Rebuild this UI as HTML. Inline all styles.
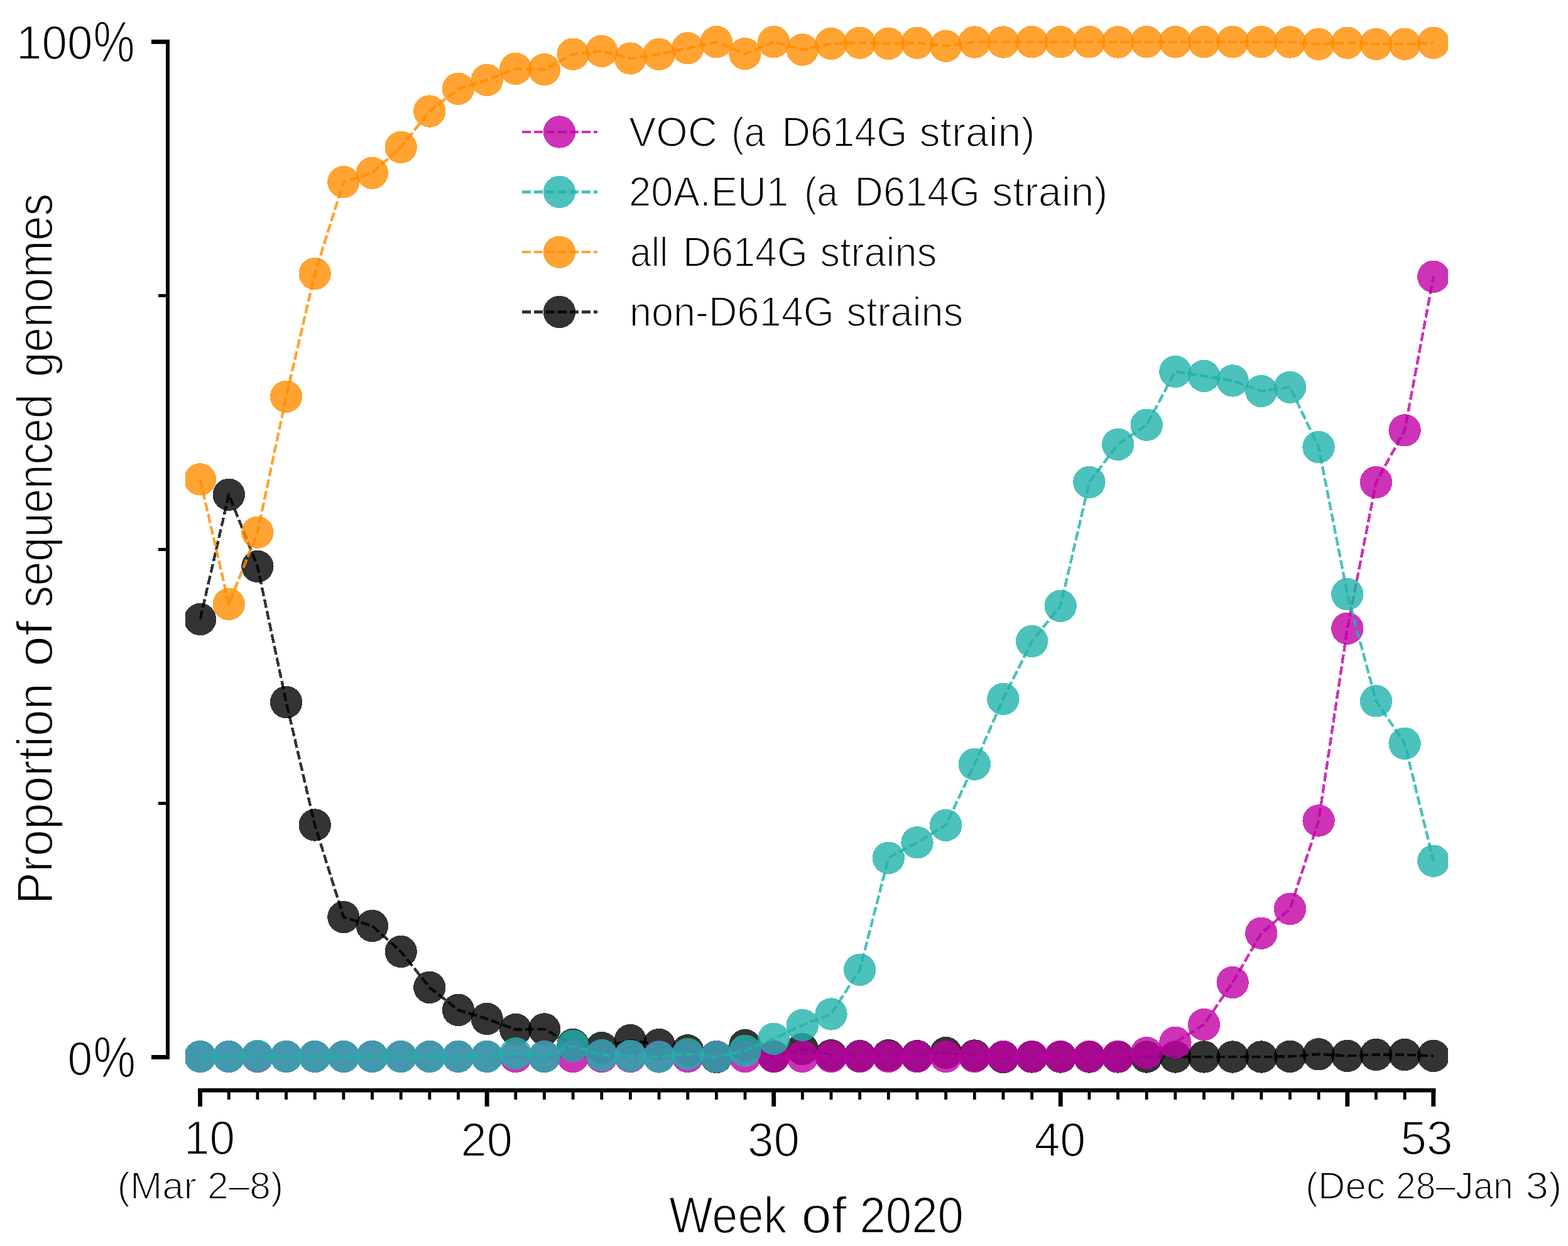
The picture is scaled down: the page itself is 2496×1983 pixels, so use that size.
<!DOCTYPE html>
<html><head><meta charset="utf-8"><title>Proportion of sequenced genomes by week of 2020</title>
<style>html,body{margin:0;padding:0;background:#fff;overflow:hidden;}svg{display:block;}
text{font-family:"Liberation Sans",Arial,sans-serif;fill:#000;stroke:#fff;stroke-width:1.8px;}</style></head>
<body>
<svg width="2496" height="1983" viewBox="0 0 2496 1983">
<rect x="0" y="0" width="2496" height="1983" fill="#fff"/>
<defs><clipPath id="axclip"><rect x="295" y="0" width="2010" height="1983"/></clipPath></defs>
<g clip-path="url(#axclip)">
<g id="black">
<polyline points="318.6,985.6 364.3,787.2 409.9,901.4 455.6,1117.5 501.2,1313.0 546.9,1459.6 592.5,1473.5 638.2,1514.4 683.8,1571.4 729.5,1607.4 775.2,1621.5 820.8,1638.5 866.5,1638.0 912.1,1662.5 957.8,1667.6 1003.4,1655.6 1049.1,1662.6 1094.7,1671.8 1140.4,1682.5 1186.0,1663.5 1231.7,1681.5 1277.4,1669.6 1323.0,1679.7 1368.7,1680.7 1414.3,1679.7 1460.0,1680.7 1505.6,1675.6 1551.3,1680.0 1596.9,1682.5 1642.6,1682.0 1688.2,1682.0 1733.9,1682.0 1779.6,1682.0 1825.2,1682.0 1870.9,1682.0 1916.5,1682.0 1962.2,1682.0 2007.8,1682.0 2053.5,1681.4 2099.1,1677.8 2144.8,1680.4 2190.5,1678.5 2236.1,1678.5 2281.8,1680.4" fill="none" stroke="#000000" stroke-opacity="0.8" stroke-width="4.4" stroke-dasharray="14 5" stroke-linejoin="round" shape-rendering="crispEdges"/>
<circle cx="318.6" cy="985.6" r="25.7" fill="#000000" fill-opacity="0.8" shape-rendering="crispEdges"/>
<circle cx="364.3" cy="787.2" r="25.7" fill="#000000" fill-opacity="0.8" shape-rendering="crispEdges"/>
<circle cx="409.9" cy="901.4" r="25.7" fill="#000000" fill-opacity="0.8" shape-rendering="crispEdges"/>
<circle cx="455.6" cy="1117.5" r="25.7" fill="#000000" fill-opacity="0.8" shape-rendering="crispEdges"/>
<circle cx="501.2" cy="1313.0" r="25.7" fill="#000000" fill-opacity="0.8" shape-rendering="crispEdges"/>
<circle cx="546.9" cy="1459.6" r="25.7" fill="#000000" fill-opacity="0.8" shape-rendering="crispEdges"/>
<circle cx="592.5" cy="1473.5" r="25.7" fill="#000000" fill-opacity="0.8" shape-rendering="crispEdges"/>
<circle cx="638.2" cy="1514.4" r="25.7" fill="#000000" fill-opacity="0.8" shape-rendering="crispEdges"/>
<circle cx="683.8" cy="1571.4" r="25.7" fill="#000000" fill-opacity="0.8" shape-rendering="crispEdges"/>
<circle cx="729.5" cy="1607.4" r="25.7" fill="#000000" fill-opacity="0.8" shape-rendering="crispEdges"/>
<circle cx="775.2" cy="1621.5" r="25.7" fill="#000000" fill-opacity="0.8" shape-rendering="crispEdges"/>
<circle cx="820.8" cy="1638.5" r="25.7" fill="#000000" fill-opacity="0.8" shape-rendering="crispEdges"/>
<circle cx="866.5" cy="1638.0" r="25.7" fill="#000000" fill-opacity="0.8" shape-rendering="crispEdges"/>
<circle cx="912.1" cy="1662.5" r="25.7" fill="#000000" fill-opacity="0.8" shape-rendering="crispEdges"/>
<circle cx="957.8" cy="1667.6" r="25.7" fill="#000000" fill-opacity="0.8" shape-rendering="crispEdges"/>
<circle cx="1003.4" cy="1655.6" r="25.7" fill="#000000" fill-opacity="0.8" shape-rendering="crispEdges"/>
<circle cx="1049.1" cy="1662.6" r="25.7" fill="#000000" fill-opacity="0.8" shape-rendering="crispEdges"/>
<circle cx="1094.7" cy="1671.8" r="25.7" fill="#000000" fill-opacity="0.8" shape-rendering="crispEdges"/>
<circle cx="1140.4" cy="1682.5" r="25.7" fill="#000000" fill-opacity="0.8" shape-rendering="crispEdges"/>
<circle cx="1186.0" cy="1663.5" r="25.7" fill="#000000" fill-opacity="0.8" shape-rendering="crispEdges"/>
<circle cx="1231.7" cy="1681.5" r="25.7" fill="#000000" fill-opacity="0.8" shape-rendering="crispEdges"/>
<circle cx="1277.4" cy="1669.6" r="25.7" fill="#000000" fill-opacity="0.8" shape-rendering="crispEdges"/>
<circle cx="1323.0" cy="1679.7" r="25.7" fill="#000000" fill-opacity="0.8" shape-rendering="crispEdges"/>
<circle cx="1368.7" cy="1680.7" r="25.7" fill="#000000" fill-opacity="0.8" shape-rendering="crispEdges"/>
<circle cx="1414.3" cy="1679.7" r="25.7" fill="#000000" fill-opacity="0.8" shape-rendering="crispEdges"/>
<circle cx="1460.0" cy="1680.7" r="25.7" fill="#000000" fill-opacity="0.8" shape-rendering="crispEdges"/>
<circle cx="1505.6" cy="1675.6" r="25.7" fill="#000000" fill-opacity="0.8" shape-rendering="crispEdges"/>
<circle cx="1551.3" cy="1680.0" r="25.7" fill="#000000" fill-opacity="0.8" shape-rendering="crispEdges"/>
<circle cx="1596.9" cy="1682.5" r="25.7" fill="#000000" fill-opacity="0.8" shape-rendering="crispEdges"/>
<circle cx="1642.6" cy="1682.0" r="25.7" fill="#000000" fill-opacity="0.8" shape-rendering="crispEdges"/>
<circle cx="1688.2" cy="1682.0" r="25.7" fill="#000000" fill-opacity="0.8" shape-rendering="crispEdges"/>
<circle cx="1733.9" cy="1682.0" r="25.7" fill="#000000" fill-opacity="0.8" shape-rendering="crispEdges"/>
<circle cx="1779.6" cy="1682.0" r="25.7" fill="#000000" fill-opacity="0.8" shape-rendering="crispEdges"/>
<circle cx="1825.2" cy="1682.0" r="25.7" fill="#000000" fill-opacity="0.8" shape-rendering="crispEdges"/>
<circle cx="1870.9" cy="1682.0" r="25.7" fill="#000000" fill-opacity="0.8" shape-rendering="crispEdges"/>
<circle cx="1916.5" cy="1682.0" r="25.7" fill="#000000" fill-opacity="0.8" shape-rendering="crispEdges"/>
<circle cx="1962.2" cy="1682.0" r="25.7" fill="#000000" fill-opacity="0.8" shape-rendering="crispEdges"/>
<circle cx="2007.8" cy="1682.0" r="25.7" fill="#000000" fill-opacity="0.8" shape-rendering="crispEdges"/>
<circle cx="2053.5" cy="1681.4" r="25.7" fill="#000000" fill-opacity="0.8" shape-rendering="crispEdges"/>
<circle cx="2099.1" cy="1677.8" r="25.7" fill="#000000" fill-opacity="0.8" shape-rendering="crispEdges"/>
<circle cx="2144.8" cy="1680.4" r="25.7" fill="#000000" fill-opacity="0.8" shape-rendering="crispEdges"/>
<circle cx="2190.5" cy="1678.5" r="25.7" fill="#000000" fill-opacity="0.8" shape-rendering="crispEdges"/>
<circle cx="2236.1" cy="1678.5" r="25.7" fill="#000000" fill-opacity="0.8" shape-rendering="crispEdges"/>
<circle cx="2281.8" cy="1680.4" r="25.7" fill="#000000" fill-opacity="0.8" shape-rendering="crispEdges"/>
</g>
<g id="magenta">
<polyline points="318.6,1681.5 364.3,1681.5 409.9,1681.5 455.6,1681.5 501.2,1681.5 546.9,1681.5 592.5,1681.5 638.2,1681.5 683.8,1681.5 729.5,1681.5 775.2,1681.5 820.8,1681.5 866.5,1681.5 912.1,1681.5 957.8,1681.5 1003.4,1681.5 1049.1,1681.5 1094.7,1681.5 1140.4,1681.5 1186.0,1681.5 1231.7,1681.5 1277.4,1681.5 1323.0,1681.5 1368.7,1681.5 1414.3,1681.5 1460.0,1681.5 1505.6,1681.5 1551.3,1681.5 1596.9,1681.5 1642.6,1681.5 1688.2,1681.5 1733.9,1681.5 1779.6,1681.5 1825.2,1675.7 1870.9,1659.2 1916.5,1630.6 1962.2,1563.5 2007.8,1485.2 2053.5,1446.5 2099.1,1306.0 2144.8,1000.2 2190.5,767.5 2236.1,684.8 2281.8,440.3" fill="none" stroke="#bf00a5" stroke-opacity="0.8" stroke-width="4.4" stroke-dasharray="14 5" stroke-linejoin="round" shape-rendering="crispEdges"/>
<circle cx="318.6" cy="1681.5" r="25.7" fill="#bf00a5" fill-opacity="0.8" shape-rendering="crispEdges"/>
<circle cx="364.3" cy="1681.5" r="25.7" fill="#bf00a5" fill-opacity="0.8" shape-rendering="crispEdges"/>
<circle cx="409.9" cy="1681.5" r="25.7" fill="#bf00a5" fill-opacity="0.8" shape-rendering="crispEdges"/>
<circle cx="455.6" cy="1681.5" r="25.7" fill="#bf00a5" fill-opacity="0.8" shape-rendering="crispEdges"/>
<circle cx="501.2" cy="1681.5" r="25.7" fill="#bf00a5" fill-opacity="0.8" shape-rendering="crispEdges"/>
<circle cx="546.9" cy="1681.5" r="25.7" fill="#bf00a5" fill-opacity="0.8" shape-rendering="crispEdges"/>
<circle cx="592.5" cy="1681.5" r="25.7" fill="#bf00a5" fill-opacity="0.8" shape-rendering="crispEdges"/>
<circle cx="638.2" cy="1681.5" r="25.7" fill="#bf00a5" fill-opacity="0.8" shape-rendering="crispEdges"/>
<circle cx="683.8" cy="1681.5" r="25.7" fill="#bf00a5" fill-opacity="0.8" shape-rendering="crispEdges"/>
<circle cx="729.5" cy="1681.5" r="25.7" fill="#bf00a5" fill-opacity="0.8" shape-rendering="crispEdges"/>
<circle cx="775.2" cy="1681.5" r="25.7" fill="#bf00a5" fill-opacity="0.8" shape-rendering="crispEdges"/>
<circle cx="820.8" cy="1681.5" r="25.7" fill="#bf00a5" fill-opacity="0.8" shape-rendering="crispEdges"/>
<circle cx="866.5" cy="1681.5" r="25.7" fill="#bf00a5" fill-opacity="0.8" shape-rendering="crispEdges"/>
<circle cx="912.1" cy="1681.5" r="25.7" fill="#bf00a5" fill-opacity="0.8" shape-rendering="crispEdges"/>
<circle cx="957.8" cy="1681.5" r="25.7" fill="#bf00a5" fill-opacity="0.8" shape-rendering="crispEdges"/>
<circle cx="1003.4" cy="1681.5" r="25.7" fill="#bf00a5" fill-opacity="0.8" shape-rendering="crispEdges"/>
<circle cx="1049.1" cy="1681.5" r="25.7" fill="#bf00a5" fill-opacity="0.8" shape-rendering="crispEdges"/>
<circle cx="1094.7" cy="1681.5" r="25.7" fill="#bf00a5" fill-opacity="0.8" shape-rendering="crispEdges"/>
<circle cx="1140.4" cy="1681.5" r="25.7" fill="#bf00a5" fill-opacity="0.8" shape-rendering="crispEdges"/>
<circle cx="1186.0" cy="1681.5" r="25.7" fill="#bf00a5" fill-opacity="0.8" shape-rendering="crispEdges"/>
<circle cx="1231.7" cy="1681.5" r="25.7" fill="#bf00a5" fill-opacity="0.8" shape-rendering="crispEdges"/>
<circle cx="1277.4" cy="1681.5" r="25.7" fill="#bf00a5" fill-opacity="0.8" shape-rendering="crispEdges"/>
<circle cx="1323.0" cy="1681.5" r="25.7" fill="#bf00a5" fill-opacity="0.8" shape-rendering="crispEdges"/>
<circle cx="1368.7" cy="1681.5" r="25.7" fill="#bf00a5" fill-opacity="0.8" shape-rendering="crispEdges"/>
<circle cx="1414.3" cy="1681.5" r="25.7" fill="#bf00a5" fill-opacity="0.8" shape-rendering="crispEdges"/>
<circle cx="1460.0" cy="1681.5" r="25.7" fill="#bf00a5" fill-opacity="0.8" shape-rendering="crispEdges"/>
<circle cx="1505.6" cy="1681.5" r="25.7" fill="#bf00a5" fill-opacity="0.8" shape-rendering="crispEdges"/>
<circle cx="1551.3" cy="1681.5" r="25.7" fill="#bf00a5" fill-opacity="0.8" shape-rendering="crispEdges"/>
<circle cx="1596.9" cy="1681.5" r="25.7" fill="#bf00a5" fill-opacity="0.8" shape-rendering="crispEdges"/>
<circle cx="1642.6" cy="1681.5" r="25.7" fill="#bf00a5" fill-opacity="0.8" shape-rendering="crispEdges"/>
<circle cx="1688.2" cy="1681.5" r="25.7" fill="#bf00a5" fill-opacity="0.8" shape-rendering="crispEdges"/>
<circle cx="1733.9" cy="1681.5" r="25.7" fill="#bf00a5" fill-opacity="0.8" shape-rendering="crispEdges"/>
<circle cx="1779.6" cy="1681.5" r="25.7" fill="#bf00a5" fill-opacity="0.8" shape-rendering="crispEdges"/>
<circle cx="1825.2" cy="1675.7" r="25.7" fill="#bf00a5" fill-opacity="0.8" shape-rendering="crispEdges"/>
<circle cx="1870.9" cy="1659.2" r="25.7" fill="#bf00a5" fill-opacity="0.8" shape-rendering="crispEdges"/>
<circle cx="1916.5" cy="1630.6" r="25.7" fill="#bf00a5" fill-opacity="0.8" shape-rendering="crispEdges"/>
<circle cx="1962.2" cy="1563.5" r="25.7" fill="#bf00a5" fill-opacity="0.8" shape-rendering="crispEdges"/>
<circle cx="2007.8" cy="1485.2" r="25.7" fill="#bf00a5" fill-opacity="0.8" shape-rendering="crispEdges"/>
<circle cx="2053.5" cy="1446.5" r="25.7" fill="#bf00a5" fill-opacity="0.8" shape-rendering="crispEdges"/>
<circle cx="2099.1" cy="1306.0" r="25.7" fill="#bf00a5" fill-opacity="0.8" shape-rendering="crispEdges"/>
<circle cx="2144.8" cy="1000.2" r="25.7" fill="#bf00a5" fill-opacity="0.8" shape-rendering="crispEdges"/>
<circle cx="2190.5" cy="767.5" r="25.7" fill="#bf00a5" fill-opacity="0.8" shape-rendering="crispEdges"/>
<circle cx="2236.1" cy="684.8" r="25.7" fill="#bf00a5" fill-opacity="0.8" shape-rendering="crispEdges"/>
<circle cx="2281.8" cy="440.3" r="25.7" fill="#bf00a5" fill-opacity="0.8" shape-rendering="crispEdges"/>
</g>
<g id="teal">
<polyline points="318.6,1681.5 364.3,1681.5 409.9,1680.5 455.6,1681.5 501.2,1681.5 546.9,1681.5 592.5,1681.5 638.2,1681.5 683.8,1681.5 729.5,1681.5 775.2,1681.5 820.8,1676.7 866.5,1681.6 912.1,1664.4 957.8,1679.5 1003.4,1680.4 1049.1,1682.0 1094.7,1677.5 1140.4,1682.0 1186.0,1672.3 1231.7,1653.3 1277.4,1631.5 1323.0,1613.9 1368.7,1543.3 1414.3,1365.4 1460.0,1340.8 1505.6,1313.3 1551.3,1216.2 1596.9,1112.4 1642.6,1020.5 1688.2,964.3 1733.9,767.4 1779.6,707.3 1825.2,676.2 1870.9,591.4 1916.5,598.4 1962.2,605.9 2007.8,622.4 2053.5,616.3 2099.1,711.5 2144.8,945.7 2190.5,1115.8 2236.1,1183.3 2281.8,1370.2" fill="none" stroke="#20b2aa" stroke-opacity="0.8" stroke-width="4.4" stroke-dasharray="14 5" stroke-linejoin="round" shape-rendering="crispEdges"/>
<circle cx="318.6" cy="1681.5" r="25.7" fill="#20b2aa" fill-opacity="0.8" shape-rendering="crispEdges"/>
<circle cx="364.3" cy="1681.5" r="25.7" fill="#20b2aa" fill-opacity="0.8" shape-rendering="crispEdges"/>
<circle cx="409.9" cy="1680.5" r="25.7" fill="#20b2aa" fill-opacity="0.8" shape-rendering="crispEdges"/>
<circle cx="455.6" cy="1681.5" r="25.7" fill="#20b2aa" fill-opacity="0.8" shape-rendering="crispEdges"/>
<circle cx="501.2" cy="1681.5" r="25.7" fill="#20b2aa" fill-opacity="0.8" shape-rendering="crispEdges"/>
<circle cx="546.9" cy="1681.5" r="25.7" fill="#20b2aa" fill-opacity="0.8" shape-rendering="crispEdges"/>
<circle cx="592.5" cy="1681.5" r="25.7" fill="#20b2aa" fill-opacity="0.8" shape-rendering="crispEdges"/>
<circle cx="638.2" cy="1681.5" r="25.7" fill="#20b2aa" fill-opacity="0.8" shape-rendering="crispEdges"/>
<circle cx="683.8" cy="1681.5" r="25.7" fill="#20b2aa" fill-opacity="0.8" shape-rendering="crispEdges"/>
<circle cx="729.5" cy="1681.5" r="25.7" fill="#20b2aa" fill-opacity="0.8" shape-rendering="crispEdges"/>
<circle cx="775.2" cy="1681.5" r="25.7" fill="#20b2aa" fill-opacity="0.8" shape-rendering="crispEdges"/>
<circle cx="820.8" cy="1676.7" r="25.7" fill="#20b2aa" fill-opacity="0.8" shape-rendering="crispEdges"/>
<circle cx="866.5" cy="1681.6" r="25.7" fill="#20b2aa" fill-opacity="0.8" shape-rendering="crispEdges"/>
<circle cx="912.1" cy="1664.4" r="25.7" fill="#20b2aa" fill-opacity="0.8" shape-rendering="crispEdges"/>
<circle cx="957.8" cy="1679.5" r="25.7" fill="#20b2aa" fill-opacity="0.8" shape-rendering="crispEdges"/>
<circle cx="1003.4" cy="1680.4" r="25.7" fill="#20b2aa" fill-opacity="0.8" shape-rendering="crispEdges"/>
<circle cx="1049.1" cy="1682.0" r="25.7" fill="#20b2aa" fill-opacity="0.8" shape-rendering="crispEdges"/>
<circle cx="1094.7" cy="1677.5" r="25.7" fill="#20b2aa" fill-opacity="0.8" shape-rendering="crispEdges"/>
<circle cx="1140.4" cy="1682.0" r="25.7" fill="#20b2aa" fill-opacity="0.8" shape-rendering="crispEdges"/>
<circle cx="1186.0" cy="1672.3" r="25.7" fill="#20b2aa" fill-opacity="0.8" shape-rendering="crispEdges"/>
<circle cx="1231.7" cy="1653.3" r="25.7" fill="#20b2aa" fill-opacity="0.8" shape-rendering="crispEdges"/>
<circle cx="1277.4" cy="1631.5" r="25.7" fill="#20b2aa" fill-opacity="0.8" shape-rendering="crispEdges"/>
<circle cx="1323.0" cy="1613.9" r="25.7" fill="#20b2aa" fill-opacity="0.8" shape-rendering="crispEdges"/>
<circle cx="1368.7" cy="1543.3" r="25.7" fill="#20b2aa" fill-opacity="0.8" shape-rendering="crispEdges"/>
<circle cx="1414.3" cy="1365.4" r="25.7" fill="#20b2aa" fill-opacity="0.8" shape-rendering="crispEdges"/>
<circle cx="1460.0" cy="1340.8" r="25.7" fill="#20b2aa" fill-opacity="0.8" shape-rendering="crispEdges"/>
<circle cx="1505.6" cy="1313.3" r="25.7" fill="#20b2aa" fill-opacity="0.8" shape-rendering="crispEdges"/>
<circle cx="1551.3" cy="1216.2" r="25.7" fill="#20b2aa" fill-opacity="0.8" shape-rendering="crispEdges"/>
<circle cx="1596.9" cy="1112.4" r="25.7" fill="#20b2aa" fill-opacity="0.8" shape-rendering="crispEdges"/>
<circle cx="1642.6" cy="1020.5" r="25.7" fill="#20b2aa" fill-opacity="0.8" shape-rendering="crispEdges"/>
<circle cx="1688.2" cy="964.3" r="25.7" fill="#20b2aa" fill-opacity="0.8" shape-rendering="crispEdges"/>
<circle cx="1733.9" cy="767.4" r="25.7" fill="#20b2aa" fill-opacity="0.8" shape-rendering="crispEdges"/>
<circle cx="1779.6" cy="707.3" r="25.7" fill="#20b2aa" fill-opacity="0.8" shape-rendering="crispEdges"/>
<circle cx="1825.2" cy="676.2" r="25.7" fill="#20b2aa" fill-opacity="0.8" shape-rendering="crispEdges"/>
<circle cx="1870.9" cy="591.4" r="25.7" fill="#20b2aa" fill-opacity="0.8" shape-rendering="crispEdges"/>
<circle cx="1916.5" cy="598.4" r="25.7" fill="#20b2aa" fill-opacity="0.8" shape-rendering="crispEdges"/>
<circle cx="1962.2" cy="605.9" r="25.7" fill="#20b2aa" fill-opacity="0.8" shape-rendering="crispEdges"/>
<circle cx="2007.8" cy="622.4" r="25.7" fill="#20b2aa" fill-opacity="0.8" shape-rendering="crispEdges"/>
<circle cx="2053.5" cy="616.3" r="25.7" fill="#20b2aa" fill-opacity="0.8" shape-rendering="crispEdges"/>
<circle cx="2099.1" cy="711.5" r="25.7" fill="#20b2aa" fill-opacity="0.8" shape-rendering="crispEdges"/>
<circle cx="2144.8" cy="945.7" r="25.7" fill="#20b2aa" fill-opacity="0.8" shape-rendering="crispEdges"/>
<circle cx="2190.5" cy="1115.8" r="25.7" fill="#20b2aa" fill-opacity="0.8" shape-rendering="crispEdges"/>
<circle cx="2236.1" cy="1183.3" r="25.7" fill="#20b2aa" fill-opacity="0.8" shape-rendering="crispEdges"/>
<circle cx="2281.8" cy="1370.2" r="25.7" fill="#20b2aa" fill-opacity="0.8" shape-rendering="crispEdges"/>
</g>
<g id="orange">
<polyline points="318.6,762.9 364.3,961.5 409.9,847.2 455.6,631.2 501.2,435.6 546.9,289.5 592.5,275.3 638.2,234.3 683.8,177.0 729.5,141.3 775.2,127.4 820.8,109.3 866.5,110.6 912.1,86.2 957.8,81.3 1003.4,93.0 1049.1,86.3 1094.7,76.7 1140.4,66.7 1186.0,85.6 1231.7,66.7 1277.4,79.1 1323.0,69.4 1368.7,68.2 1414.3,69.4 1460.0,68.2 1505.6,73.2 1551.3,67.0 1596.9,67.0 1642.6,66.7 1688.2,66.7 1733.9,66.7 1779.6,67.0 1825.2,66.7 1870.9,66.7 1916.5,66.7 1962.2,66.7 2007.8,66.7 2053.5,67.0 2099.1,70.2 2144.8,68.2 2190.5,70.2 2236.1,70.2 2281.8,68.2" fill="none" stroke="#ff8c00" stroke-opacity="0.8" stroke-width="4.4" stroke-dasharray="14 5" stroke-linejoin="round" shape-rendering="crispEdges"/>
<circle cx="318.6" cy="762.9" r="25.7" fill="#ff8c00" fill-opacity="0.8" shape-rendering="crispEdges"/>
<circle cx="364.3" cy="961.5" r="25.7" fill="#ff8c00" fill-opacity="0.8" shape-rendering="crispEdges"/>
<circle cx="409.9" cy="847.2" r="25.7" fill="#ff8c00" fill-opacity="0.8" shape-rendering="crispEdges"/>
<circle cx="455.6" cy="631.2" r="25.7" fill="#ff8c00" fill-opacity="0.8" shape-rendering="crispEdges"/>
<circle cx="501.2" cy="435.6" r="25.7" fill="#ff8c00" fill-opacity="0.8" shape-rendering="crispEdges"/>
<circle cx="546.9" cy="289.5" r="25.7" fill="#ff8c00" fill-opacity="0.8" shape-rendering="crispEdges"/>
<circle cx="592.5" cy="275.3" r="25.7" fill="#ff8c00" fill-opacity="0.8" shape-rendering="crispEdges"/>
<circle cx="638.2" cy="234.3" r="25.7" fill="#ff8c00" fill-opacity="0.8" shape-rendering="crispEdges"/>
<circle cx="683.8" cy="177.0" r="25.7" fill="#ff8c00" fill-opacity="0.8" shape-rendering="crispEdges"/>
<circle cx="729.5" cy="141.3" r="25.7" fill="#ff8c00" fill-opacity="0.8" shape-rendering="crispEdges"/>
<circle cx="775.2" cy="127.4" r="25.7" fill="#ff8c00" fill-opacity="0.8" shape-rendering="crispEdges"/>
<circle cx="820.8" cy="109.3" r="25.7" fill="#ff8c00" fill-opacity="0.8" shape-rendering="crispEdges"/>
<circle cx="866.5" cy="110.6" r="25.7" fill="#ff8c00" fill-opacity="0.8" shape-rendering="crispEdges"/>
<circle cx="912.1" cy="86.2" r="25.7" fill="#ff8c00" fill-opacity="0.8" shape-rendering="crispEdges"/>
<circle cx="957.8" cy="81.3" r="25.7" fill="#ff8c00" fill-opacity="0.8" shape-rendering="crispEdges"/>
<circle cx="1003.4" cy="93.0" r="25.7" fill="#ff8c00" fill-opacity="0.8" shape-rendering="crispEdges"/>
<circle cx="1049.1" cy="86.3" r="25.7" fill="#ff8c00" fill-opacity="0.8" shape-rendering="crispEdges"/>
<circle cx="1094.7" cy="76.7" r="25.7" fill="#ff8c00" fill-opacity="0.8" shape-rendering="crispEdges"/>
<circle cx="1140.4" cy="66.7" r="25.7" fill="#ff8c00" fill-opacity="0.8" shape-rendering="crispEdges"/>
<circle cx="1186.0" cy="85.6" r="25.7" fill="#ff8c00" fill-opacity="0.8" shape-rendering="crispEdges"/>
<circle cx="1231.7" cy="66.7" r="25.7" fill="#ff8c00" fill-opacity="0.8" shape-rendering="crispEdges"/>
<circle cx="1277.4" cy="79.1" r="25.7" fill="#ff8c00" fill-opacity="0.8" shape-rendering="crispEdges"/>
<circle cx="1323.0" cy="69.4" r="25.7" fill="#ff8c00" fill-opacity="0.8" shape-rendering="crispEdges"/>
<circle cx="1368.7" cy="68.2" r="25.7" fill="#ff8c00" fill-opacity="0.8" shape-rendering="crispEdges"/>
<circle cx="1414.3" cy="69.4" r="25.7" fill="#ff8c00" fill-opacity="0.8" shape-rendering="crispEdges"/>
<circle cx="1460.0" cy="68.2" r="25.7" fill="#ff8c00" fill-opacity="0.8" shape-rendering="crispEdges"/>
<circle cx="1505.6" cy="73.2" r="25.7" fill="#ff8c00" fill-opacity="0.8" shape-rendering="crispEdges"/>
<circle cx="1551.3" cy="67.0" r="25.7" fill="#ff8c00" fill-opacity="0.8" shape-rendering="crispEdges"/>
<circle cx="1596.9" cy="67.0" r="25.7" fill="#ff8c00" fill-opacity="0.8" shape-rendering="crispEdges"/>
<circle cx="1642.6" cy="66.7" r="25.7" fill="#ff8c00" fill-opacity="0.8" shape-rendering="crispEdges"/>
<circle cx="1688.2" cy="66.7" r="25.7" fill="#ff8c00" fill-opacity="0.8" shape-rendering="crispEdges"/>
<circle cx="1733.9" cy="66.7" r="25.7" fill="#ff8c00" fill-opacity="0.8" shape-rendering="crispEdges"/>
<circle cx="1779.6" cy="67.0" r="25.7" fill="#ff8c00" fill-opacity="0.8" shape-rendering="crispEdges"/>
<circle cx="1825.2" cy="66.7" r="25.7" fill="#ff8c00" fill-opacity="0.8" shape-rendering="crispEdges"/>
<circle cx="1870.9" cy="66.7" r="25.7" fill="#ff8c00" fill-opacity="0.8" shape-rendering="crispEdges"/>
<circle cx="1916.5" cy="66.7" r="25.7" fill="#ff8c00" fill-opacity="0.8" shape-rendering="crispEdges"/>
<circle cx="1962.2" cy="66.7" r="25.7" fill="#ff8c00" fill-opacity="0.8" shape-rendering="crispEdges"/>
<circle cx="2007.8" cy="66.7" r="25.7" fill="#ff8c00" fill-opacity="0.8" shape-rendering="crispEdges"/>
<circle cx="2053.5" cy="67.0" r="25.7" fill="#ff8c00" fill-opacity="0.8" shape-rendering="crispEdges"/>
<circle cx="2099.1" cy="70.2" r="25.7" fill="#ff8c00" fill-opacity="0.8" shape-rendering="crispEdges"/>
<circle cx="2144.8" cy="68.2" r="25.7" fill="#ff8c00" fill-opacity="0.8" shape-rendering="crispEdges"/>
<circle cx="2190.5" cy="70.2" r="25.7" fill="#ff8c00" fill-opacity="0.8" shape-rendering="crispEdges"/>
<circle cx="2236.1" cy="70.2" r="25.7" fill="#ff8c00" fill-opacity="0.8" shape-rendering="crispEdges"/>
<circle cx="2281.8" cy="68.2" r="25.7" fill="#ff8c00" fill-opacity="0.8" shape-rendering="crispEdges"/>
</g>
</g>
<g id="axes">
<rect x="264" y="63" width="6" height="1623" fill="#000"/>
<rect x="315" y="1732" width="1970.5" height="6.5" fill="#000"/>
<rect x="241" y="63.0" width="26" height="7" fill="#000"/>
<rect x="241" y="1679.0" width="26" height="7" fill="#000"/>
<rect x="252" y="1276.0" width="15" height="5" fill="#000"/>
<rect x="252" y="872.0" width="15" height="5" fill="#000"/>
<rect x="252" y="468.0" width="15" height="5" fill="#000"/>
<rect x="315.15" y="1735" width="6.9" height="26" fill="#000"/>
<rect x="361.86" y="1735" width="4.8" height="15" fill="#000"/>
<rect x="407.51" y="1735" width="4.8" height="15" fill="#000"/>
<rect x="453.17" y="1735" width="4.8" height="15" fill="#000"/>
<rect x="498.82" y="1735" width="4.8" height="15" fill="#000"/>
<rect x="544.48" y="1735" width="4.8" height="15" fill="#000"/>
<rect x="590.13" y="1735" width="4.8" height="15" fill="#000"/>
<rect x="635.79" y="1735" width="4.8" height="15" fill="#000"/>
<rect x="681.44" y="1735" width="4.8" height="15" fill="#000"/>
<rect x="727.10" y="1735" width="4.8" height="15" fill="#000"/>
<rect x="771.70" y="1735" width="6.9" height="26" fill="#000"/>
<rect x="818.41" y="1735" width="4.8" height="15" fill="#000"/>
<rect x="864.06" y="1735" width="4.8" height="15" fill="#000"/>
<rect x="909.72" y="1735" width="4.8" height="15" fill="#000"/>
<rect x="955.37" y="1735" width="4.8" height="15" fill="#000"/>
<rect x="1001.03" y="1735" width="4.8" height="15" fill="#000"/>
<rect x="1046.68" y="1735" width="4.8" height="15" fill="#000"/>
<rect x="1092.34" y="1735" width="4.8" height="15" fill="#000"/>
<rect x="1137.99" y="1735" width="4.8" height="15" fill="#000"/>
<rect x="1183.64" y="1735" width="4.8" height="15" fill="#000"/>
<rect x="1228.25" y="1735" width="6.9" height="26" fill="#000"/>
<rect x="1274.95" y="1735" width="4.8" height="15" fill="#000"/>
<rect x="1320.61" y="1735" width="4.8" height="15" fill="#000"/>
<rect x="1366.26" y="1735" width="4.8" height="15" fill="#000"/>
<rect x="1411.92" y="1735" width="4.8" height="15" fill="#000"/>
<rect x="1457.57" y="1735" width="4.8" height="15" fill="#000"/>
<rect x="1503.23" y="1735" width="4.8" height="15" fill="#000"/>
<rect x="1548.88" y="1735" width="4.8" height="15" fill="#000"/>
<rect x="1594.54" y="1735" width="4.8" height="15" fill="#000"/>
<rect x="1640.20" y="1735" width="4.8" height="15" fill="#000"/>
<rect x="1684.80" y="1735" width="6.9" height="26" fill="#000"/>
<rect x="1731.51" y="1735" width="4.8" height="15" fill="#000"/>
<rect x="1777.16" y="1735" width="4.8" height="15" fill="#000"/>
<rect x="1822.82" y="1735" width="4.8" height="15" fill="#000"/>
<rect x="1868.47" y="1735" width="4.8" height="15" fill="#000"/>
<rect x="1914.12" y="1735" width="4.8" height="15" fill="#000"/>
<rect x="1959.78" y="1735" width="4.8" height="15" fill="#000"/>
<rect x="2005.43" y="1735" width="4.8" height="15" fill="#000"/>
<rect x="2051.09" y="1735" width="4.8" height="15" fill="#000"/>
<rect x="2096.74" y="1735" width="4.8" height="15" fill="#000"/>
<rect x="2141.35" y="1735" width="6.9" height="26" fill="#000"/>
<rect x="2188.05" y="1735" width="4.8" height="15" fill="#000"/>
<rect x="2233.71" y="1735" width="4.8" height="15" fill="#000"/>
<rect x="2278.32" y="1735" width="6.9" height="26" fill="#000"/>
</g>
<g id="labels">
<text id="t-100" font-size="76.88"><tspan x="26.00" y="94.20" textLength="121.35" lengthAdjust="spacingAndGlyphs">100</tspan><tspan x="148.40" y="98.20" font-size="92.4" textLength="66.04" lengthAdjust="spacingAndGlyphs">%</tspan></text>
<text id="t-0" font-size="76.88"><tspan x="107.50" y="1710.50" textLength="39.66" lengthAdjust="spacingAndGlyphs">0</tspan><tspan x="148.40" y="1714.30" font-size="92.4" textLength="67.38" lengthAdjust="spacingAndGlyphs">%</tspan></text>
<text id="t-ylabel" transform="rotate(-90)" font-size="79.95"><tspan x="-1439.00" y="83.00" textLength="352.07" lengthAdjust="spacingAndGlyphs">Proportion</tspan> <tspan x="-1061.00" y="83.00" textLength="73.47" lengthAdjust="spacingAndGlyphs">of</tspan> <tspan x="-967.00" y="83.00" textLength="339.55" lengthAdjust="spacingAndGlyphs">sequenced</tspan> <tspan x="-600.00" y="83.00" textLength="292.12" lengthAdjust="spacingAndGlyphs">genomes</tspan></text>
<text id="t-10" font-size="76.88"><tspan x="293.00" y="1837.00" textLength="81.02" lengthAdjust="spacingAndGlyphs">10</tspan></text>
<text id="t-20" font-size="76.88"><tspan x="733.50" y="1840.00" textLength="82.36" lengthAdjust="spacingAndGlyphs">20</tspan></text>
<text id="t-30" font-size="76.88"><tspan x="1190.00" y="1840.00" textLength="82.88" lengthAdjust="spacingAndGlyphs">30</tspan></text>
<text id="t-40" font-size="76.88"><tspan x="1646.50" y="1840.00" textLength="81.75" lengthAdjust="spacingAndGlyphs">40</tspan></text>
<text id="t-53" font-size="76.88"><tspan x="2229.50" y="1837.00" textLength="82.91" lengthAdjust="spacingAndGlyphs">53</tspan></text>
<text id="t-Mar" font-size="60.17"><tspan x="186.50" y="1908.20" textLength="126.65" lengthAdjust="spacingAndGlyphs">(Mar</tspan> <tspan x="330.00" y="1908.20" textLength="121.12" lengthAdjust="spacingAndGlyphs">2–8)</tspan></text>
<text id="t-Dec" font-size="60.17"><tspan x="2078.00" y="1908.20" textLength="127.03" lengthAdjust="spacingAndGlyphs">(Dec</tspan> <tspan x="2222.00" y="1908.20" textLength="186.73" lengthAdjust="spacingAndGlyphs">28–Jan</tspan> <tspan x="2428.50" y="1908.20" textLength="58.14" lengthAdjust="spacingAndGlyphs">3)</tspan></text>
<text id="t-Week" font-size="82.0"><tspan x="1065.00" y="1961.50" textLength="187.37" lengthAdjust="spacingAndGlyphs">Week</tspan> <tspan x="1275.50" y="1961.50" textLength="72.36" lengthAdjust="spacingAndGlyphs">of</tspan> <tspan x="1368.50" y="1961.50" textLength="165.49" lengthAdjust="spacingAndGlyphs">2020</tspan></text>
</g>
<g id="legend">
<line x1="831" y1="210.0" x2="951" y2="210.0" stroke="#bf00a5" stroke-opacity="0.8" stroke-width="4.4" stroke-dasharray="14 5" shape-rendering="crispEdges"/>
<circle cx="890.5" cy="210.0" r="25.7" fill="#bf00a5" fill-opacity="0.8" shape-rendering="crispEdges"/>
<text id="t-leg1" font-size="67.03"><tspan x="1001.00" y="232.90" textLength="140.82" lengthAdjust="spacingAndGlyphs">VOC</tspan> <tspan x="1164.00" y="232.90" textLength="54.52" lengthAdjust="spacingAndGlyphs">(a</tspan> <tspan x="1244.50" y="232.90" textLength="199.88" lengthAdjust="spacingAndGlyphs">D614G</tspan> <tspan x="1463.50" y="232.90" textLength="183.97" lengthAdjust="spacingAndGlyphs">strain)</tspan></text>
<line x1="831" y1="305.5" x2="951" y2="305.5" stroke="#20b2aa" stroke-opacity="0.8" stroke-width="4.4" stroke-dasharray="14 5" shape-rendering="crispEdges"/>
<circle cx="890.5" cy="305.5" r="25.7" fill="#20b2aa" fill-opacity="0.8" shape-rendering="crispEdges"/>
<text id="t-leg2" font-size="67.03"><tspan x="1001.00" y="328.20" textLength="254.22" lengthAdjust="spacingAndGlyphs">20A.EU1</tspan> <tspan x="1280.00" y="328.20" textLength="53.94" lengthAdjust="spacingAndGlyphs">(a</tspan> <tspan x="1360.50" y="328.20" textLength="199.35" lengthAdjust="spacingAndGlyphs">D614G</tspan> <tspan x="1579.00" y="328.20" textLength="184.49" lengthAdjust="spacingAndGlyphs">strain)</tspan></text>
<line x1="831" y1="401.2" x2="951" y2="401.2" stroke="#ff8c00" stroke-opacity="0.8" stroke-width="4.4" stroke-dasharray="14 5" shape-rendering="crispEdges"/>
<circle cx="890.5" cy="401.2" r="25.7" fill="#ff8c00" fill-opacity="0.8" shape-rendering="crispEdges"/>
<text id="t-leg3" font-size="67.03"><tspan x="1003.00" y="423.70" textLength="60.54" lengthAdjust="spacingAndGlyphs">all</tspan> <tspan x="1087.00" y="423.70" textLength="198.82" lengthAdjust="spacingAndGlyphs">D614G</tspan> <tspan x="1305.50" y="423.70" textLength="185.65" lengthAdjust="spacingAndGlyphs">strains</tspan></text>
<line x1="831" y1="496.5" x2="951" y2="496.5" stroke="#000000" stroke-opacity="0.8" stroke-width="4.4" stroke-dasharray="14 5" shape-rendering="crispEdges"/>
<circle cx="890.5" cy="496.5" r="25.7" fill="#000000" fill-opacity="0.8" shape-rendering="crispEdges"/>
<text id="t-leg4" font-size="67.03"><tspan x="1002.00" y="519.00" textLength="325.71" lengthAdjust="spacingAndGlyphs">non-D614G</tspan> <tspan x="1347.50" y="519.00" textLength="185.65" lengthAdjust="spacingAndGlyphs">strains</tspan></text>
</g>
</svg>
</body></html>
